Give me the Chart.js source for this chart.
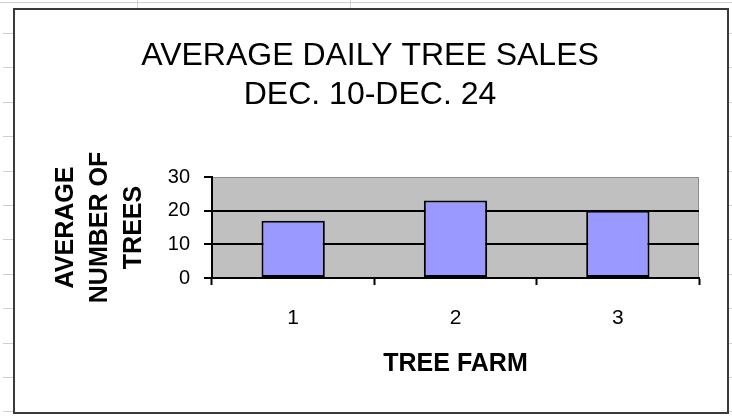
<!DOCTYPE html>
<html>
<head>
<meta charset="utf-8">
<script src="https://cdn.jsdelivr.net/npm/chart.js@4/dist/chart.umd.min.js"></script>
<style>
  body { margin: 0; background: #fff; }
  #wrap { position: relative; width: 732px; height: 416px; overflow: hidden; }
  .sheet-h { position: absolute; height: 1px; background: #d0d0d0; }
  .sheet-v { position: absolute; width: 1px; background: #d0d0d0; }
  #frame { position: absolute; left: 13px; top: 8px; width: 712px; height: 402px;
           border: 2px solid #3a3a3a; background: #fff; }
  #chart { position: absolute; left: 0; top: 0; }
</style>
</head>
<body>
<div id="wrap">
  <div class="sheet-h" style="left:0;top:2px;width:732px"></div>
  <div class="sheet-v" style="left:137px;top:0;height:9px"></div>
  <div class="sheet-v" style="left:350px;top:0;height:9px"></div>
  <div id="rows"></div>
  <div id="frame"></div>
  <canvas id="chart" width="732" height="416"></canvas>
</div>
<script>
// chart data
const farms = ['1', '2', '3'];
const avgTrees = [17, 23, 20];
const yTicks = [0, 10, 20, 30];

const titleLines = ['AVERAGE DAILY TREE SALES', 'DEC. 10-DEC. 24'];
const yTitle = ['AVERAGE', 'NUMBER OF', 'TREES'];
const xTitle = 'TREE FARM';

const FONT = "'Liberation Sans', Arial, sans-serif";

// spreadsheet row marks peeking out on both sides of the chart frame
const rows = document.getElementById('rows');
for (let y = 33; y < 416; y += 34.4) {
    rows.innerHTML += '<div class="sheet-h" style="left:3px;top:' + Math.round(y) + 'px;width:10px"></div>';
    rows.innerHTML += '<div class="sheet-h" style="left:729px;top:' + Math.round(y) + 'px;width:3px"></div>';
}

// grey plot area like old Excel
const plotBackground = {
    id: 'plotBackground',
    beforeDraw(chart) {
        const a = chart.chartArea;
        const ctx = chart.ctx;
        ctx.save();
        ctx.fillStyle = '#c0c0c0';
        ctx.fillRect(a.left, a.top, a.right - a.left, a.bottom - a.top);
        ctx.strokeStyle = '#8c8c8c';
        ctx.lineWidth = 1;
        ctx.strokeRect(a.left + 0.5, a.top + 0.5, a.right - a.left - 1, a.bottom - a.top - 1);
        ctx.restore();
    }
};

const ctx = document.getElementById('chart').getContext('2d');
new Chart(ctx, {
    type: 'bar',
    data: {
        labels: farms,
        datasets: [{
            data: avgTrees,
            backgroundColor: '#9999ff',
            borderColor: '#000000',
            borderWidth: 2,
            borderSkipped: false,
            barPercentage: 0.39,
            categoryPercentage: 1
        }]
    },
    options: {
        responsive: false,
        animation: false,
        // left padding keeps the main title centred on the frame
        layout: { padding: { left: 41, right: 33, top: 0, bottom: 0 } },
        plugins: {
            legend: { display: false },
            tooltip: { enabled: false },
            title: {
                display: true,
                text: titleLines,
                color: '#000',
                font: { family: FONT, size: 32, weight: 'normal', lineHeight: 39 / 32 },
                padding: { top: 37, bottom: 62 }
            }
        },
        scales: {
            x: {
                offset: true,
                afterFit(scale) { scale.height = 138; },
                grid: {
                    offset: true,
                    drawOnChartArea: false,
                    drawTicks: true,
                    tickLength: 7,
                    tickColor: '#000',
                    tickWidth: 2
                },
                border: { color: '#000', width: 2 },
                ticks: {
                    color: '#000',
                    padding: 21,
                    font: { family: FONT, size: 21 }
                },
                title: {
                    display: true,
                    text: xTitle,
                    color: '#000',
                    font: { family: FONT, size: 25, weight: 'bold', lineHeight: 1.2 },
                    padding: { top: 0, bottom: 37 }
                }
            },
            y: {
                min: yTicks[0],
                max: yTicks[yTicks.length - 1],
                afterFit(scale) { scale.width = 171; },
                afterBuildTicks(scale) { scale.ticks = yTicks.map(v => ({ value: v })); },
                grid: {
                    color: c => (c.tick && c.tick.value === 30) ? 'rgba(0,0,0,0)' : '#000',
                    lineWidth: 2,
                    tickColor: '#000',
                    tickWidth: 2,
                    tickLength: 8
                },
                border: { color: '#000', width: 2 },
                ticks: {
                    color: '#000',
                    padding: 14,
                    font: { family: FONT, size: 20 }
                },
                title: {
                    display: true,
                    text: yTitle,
                    color: '#000',
                    font: { family: FONT, size: 25, weight: 'bold', lineHeight: 34 / 25 },
                    padding: { top: 8, bottom: 0 }
                }
            }
        }
    },
    plugins: [plotBackground]
});
</script>
</body>
</html>
